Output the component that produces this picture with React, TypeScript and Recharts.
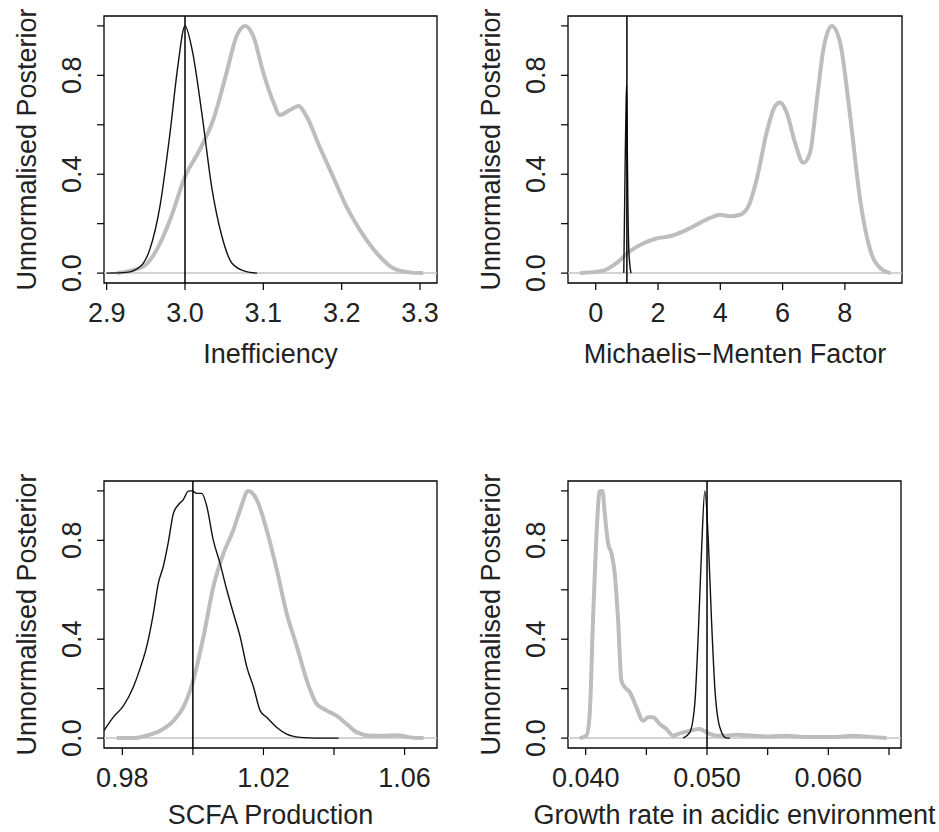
import React from "react";
import {
  LineChart,
  Line,
  XAxis,
  YAxis,
  ReferenceLine,
  ReferenceArea,
} from "recharts";

const FONT = '"Liberation Sans", Arial, Helvetica, sans-serif';
const TEXT = "#222";
const GREY = "#bdbdbd";
const FONT_SIZE = 27;

// Inefficiency
const ineffGreyX = [2.913, 2.947, 2.964, 2.981, 3.0, 3.019, 3.036, 3.053, 3.066, 3.077, 3.087, 3.1, 3.113, 3.121, 3.134, 3.145, 3.155, 3.172, 3.189, 3.206, 3.223, 3.245, 3.266, 3.287, 3.304];
const ineffGreyY = [0, 0.027, 0.095, 0.216, 0.39, 0.5, 0.62, 0.81, 0.96, 1.0, 0.96, 0.81, 0.69, 0.64, 0.66, 0.676, 0.635, 0.51, 0.39, 0.27, 0.176, 0.08, 0.02, 0.003, 0];
const ineffBlackX = [2.9, 2.925, 2.943, 2.955, 2.968, 2.981, 2.991, 3.0, 3.009, 3.022, 3.034, 3.047, 3.06, 3.077, 3.092];
const ineffBlackY = [0, 0.003, 0.027, 0.095, 0.27, 0.57, 0.84, 1.0, 0.905, 0.635, 0.35, 0.15, 0.04, 0.007, 0];

// Michaelis-Menten factor
const mmGreyX = [-0.51, 0.24, 0.66, 1.09, 1.52, 1.95, 2.38, 2.81, 3.24, 3.67, 3.99, 4.31, 4.63, 4.9, 5.17, 5.49, 5.76, 5.92, 6.13, 6.4, 6.67, 6.88, 7.1, 7.31, 7.58, 7.85, 8.17, 8.49, 8.81, 9.14, 9.46];
const mmGreyY = [0, 0.01, 0.04, 0.088, 0.12, 0.14, 0.149, 0.169, 0.196, 0.223, 0.236, 0.23, 0.236, 0.27, 0.38, 0.57, 0.676, 0.69, 0.65, 0.527, 0.446, 0.486, 0.7, 0.905, 1.0, 0.93, 0.635, 0.297, 0.095, 0.02, 0];
const mmBlackX = [0.9, 0.93, 0.95, 0.97, 0.99, 1.01, 1.03, 1.06, 1.09, 1.13];
const mmBlackY = [0, 0.3, 0.5, 0.65, 0.76, 0.55, 0.3, 0.1, 0.04, 0];

// SCFA production
const scfaGreyX = [0.9784, 0.9831, 0.9869, 0.9907, 0.9945, 0.9973, 1.0001, 1.003, 1.0058, 1.0087, 1.0115, 1.0134, 1.0157, 1.0181, 1.0209, 1.0238, 1.0266, 1.0295, 1.0323, 1.0351, 1.038, 1.0408, 1.0436, 1.0465, 1.0503, 1.054, 1.0578, 1.0616, 1.0654];
const scfaGreyY = [0, 0, 0.01, 0.03, 0.07, 0.125, 0.233, 0.41, 0.612, 0.748, 0.843, 0.924, 1.0, 0.965, 0.843, 0.68, 0.504, 0.369, 0.233, 0.138, 0.111, 0.09, 0.057, 0.023, 0.01, 0.01, 0.012, 0.003, 0];
const scfaBlackX = [0.9748, 0.9774, 0.9803, 0.9831, 0.985, 0.9869, 0.9888, 0.9902, 0.9916, 0.993, 0.9945, 0.9959, 0.9973, 0.9987, 0.9997, 1.0011, 1.0025, 1.0039, 1.0058, 1.0077, 1.0096, 1.0115, 1.0134, 1.0153, 1.0172, 1.0191, 1.0209, 1.0238, 1.0266, 1.0304, 1.0351, 1.0413];
const scfaBlackY = [0.03, 0.084, 0.13, 0.206, 0.28, 0.37, 0.504, 0.626, 0.694, 0.79, 0.91, 0.944, 0.965, 0.999, 1.0, 0.99, 0.99, 0.94, 0.8, 0.707, 0.6, 0.504, 0.41, 0.287, 0.206, 0.11, 0.084, 0.043, 0.016, 0.003, 0, 0];

// Growth rate in acidic environment
const growthGreyX = [0.0395, 0.04006, 0.04033, 0.0406, 0.04088, 0.04116, 0.04138, 0.04157, 0.04184, 0.04212, 0.04239, 0.04267, 0.04294, 0.04322, 0.04363, 0.04418, 0.04473, 0.04514, 0.04555, 0.0461, 0.04665, 0.0472, 0.04776, 0.04858, 0.04941, 0.04996, 0.05078, 0.0516, 0.05243, 0.0538, 0.05518, 0.05655, 0.05793, 0.0593, 0.06068, 0.06205, 0.06343, 0.0648];
const growthGreyY = [0, 0.01, 0.098, 0.477, 0.816, 0.999, 1.0, 0.91, 0.789, 0.748, 0.667, 0.477, 0.233, 0.206, 0.186, 0.125, 0.07, 0.084, 0.084, 0.057, 0.037, 0.01, 0.019, 0.03, 0.037, 0.023, 0.01, 0.01, 0.014, 0.01, 0.007, 0.01, 0.005, 0.005, 0.005, 0.01, 0.005, 0];
const growthBlackX = [0.04803, 0.04858, 0.04899, 0.04927, 0.04954, 0.04982, 0.05009, 0.05037, 0.05064, 0.05106, 0.0516, 0.05188];
const growthBlackY = [0, 0.023, 0.138, 0.41, 0.748, 1.0, 0.816, 0.477, 0.206, 0.043, 0, 0];

// axes
const yTicks = [0, 0.2, 0.4, 0.6, 0.8, 1.0];
const yLabelled = [0, 0.4, 0.8];
const yDomain: [number, number] = [-0.04, 1.04];

const ineffTicks = [2.9, 3.0, 3.1, 3.2, 3.3];
const mmTicks = [0, 2, 4, 6, 8];
const scfaTicks = [0.98, 1.0, 1.02, 1.04, 1.06];
const scfaLabelled = [0.98, 1.02, 1.06];
const growthTicks = [0.04, 0.045, 0.05, 0.055, 0.06, 0.065];
const growthLabelled = [0.04, 0.05, 0.06];

const zip = (xs: number[], ys: number[]) => xs.map((x, i) => ({ x, y: ys[i] }));
const has = (list: number[], v: number) => list.some((l) => Math.abs(l - v) < 1e-9);

type PanelProps = {
  left: number;
  top: number;
  width: number;
  height: number;
  plot: { l: number; t: number; r: number; b: number };
  titleGap: number;
  xDomain: [number, number];
  xTicks: number[];
  xLabelled: number[];
  digits: number;
  title: string;
  grey: { x: number; y: number }[];
  black: { x: number; y: number }[];
  truth: number;
};

const Panel = ({ left, top, width, height, plot, titleGap, xDomain, xTicks, xLabelled, digits, title, grey, black, truth }: PanelProps) => {
  const xTick = (p: any) => {
    const v = p.payload.value;
    if (!has(xLabelled, v)) return <g />;
    return (
      <text x={p.x} y={p.y + 23} textAnchor="middle" dominantBaseline="central" fontSize={FONT_SIZE} fill={TEXT} fontFamily={FONT}>
        {v.toFixed(digits)}
      </text>
    );
  };
  const yTick = (p: any) => {
    const v = p.payload.value;
    if (!has(yLabelled, v)) return <g />;
    const cx = p.x - 25;
    return (
      <text x={cx} y={p.y} transform={`rotate(-90, ${cx}, ${p.y})`} textAnchor="middle" dominantBaseline="central" fontSize={FONT_SIZE} fill={TEXT} fontFamily={FONT}>
        {v.toFixed(1)}
      </text>
    );
  };
  const xTitle = () => (
    <text x={(plot.l + plot.r) / 2} y={plot.b + titleGap} textAnchor="middle" dominantBaseline="central" fontSize={FONT_SIZE} fill={TEXT} fontFamily={FONT}>
      {title}
    </text>
  );
  const yTitleX = plot.l - 77;
  const yTitleY = (plot.t + plot.b) / 2;
  const yTitle = () => (
    <text x={yTitleX} y={yTitleY} transform={`rotate(-90, ${yTitleX}, ${yTitleY})`} textAnchor="middle" dominantBaseline="central" fontSize={FONT_SIZE} fill={TEXT} fontFamily={FONT}>
      Unnormalised Posterior
    </text>
  );

  return (
    <div style={{ position: "absolute", left, top, width, height }}>
      <LineChart width={width} height={height} margin={{ top: plot.t, right: width - plot.r, bottom: 0, left: 0 }}>
        <XAxis
          type="number"
          dataKey="x"
          domain={xDomain}
          ticks={xTicks}
          interval={0}
          allowDataOverflow
          axisLine={false}
          tickLine={{ stroke: "#000", strokeWidth: 1.2 }}
          tickSize={7}
          tickMargin={0}
          height={height - plot.b}
          tick={xTick}
          label={xTitle}
        />
        <YAxis
          type="number"
          domain={yDomain}
          ticks={yTicks}
          interval={0}
          allowDataOverflow
          axisLine={false}
          tickLine={{ stroke: "#000", strokeWidth: 1.2 }}
          tickSize={7}
          tickMargin={0}
          width={plot.l}
          tick={yTick}
          label={yTitle}
        />
        <ReferenceLine y={0} stroke="#c4c4c4" strokeWidth={1.5} />
        <Line data={grey} dataKey="y" type="monotone" stroke={GREY} strokeWidth={4} dot={false} activeDot={false} isAnimationActive={false} />
        <Line data={black} dataKey="y" type="monotone" stroke="#111" strokeWidth={1.4} dot={false} activeDot={false} isAnimationActive={false} />
        <ReferenceLine x={truth} stroke="#000" strokeWidth={1.5} />
        <ReferenceArea x1={xDomain[0]} x2={xDomain[1]} y1={yDomain[0]} y2={yDomain[1]} fill="none" stroke="#000" strokeWidth={1.3} ifOverflow="visible" />
      </LineChart>
    </div>
  );
};

export default function App() {
  return (
    <div style={{ position: "absolute", left: 0, top: 0, width: 939, height: 832, background: "#fff" }}>
      <Panel
        left={0}
        top={0}
        width={469}
        height={416}
        plot={{ l: 104, t: 16, r: 437, b: 283 }}
        titleGap={71}
        xDomain={[2.8966, 3.3217]}
        xTicks={ineffTicks}
        xLabelled={ineffTicks}
        digits={1}
        title="Inefficiency"
        grey={zip(ineffGreyX, ineffGreyY)}
        black={zip(ineffBlackX, ineffBlackY)}
        truth={3.0}
      />
      <Panel
        left={469}
        top={0}
        width={470}
        height={416}
        plot={{ l: 99, t: 16, r: 433, b: 283 }}
        titleGap={71}
        xDomain={[-0.891, 9.834]}
        xTicks={mmTicks}
        xLabelled={mmTicks}
        digits={0}
        title="Michaelis−Menten Factor"
        grey={zip(mmGreyX, mmGreyY)}
        black={zip(mmBlackX, mmBlackY)}
        truth={1.0}
      />
      <Panel
        left={0}
        top={416}
        width={469}
        height={416}
        plot={{ l: 104, t: 65, r: 437, b: 332 }}
        titleGap={67}
        xDomain={[0.97481, 1.06919]}
        xTicks={scfaTicks}
        xLabelled={scfaLabelled}
        digits={2}
        title="SCFA Production"
        grey={zip(scfaGreyX, scfaGreyY)}
        black={zip(scfaBlackX, scfaBlackY)}
        truth={1.0}
      />
      <Panel
        left={469}
        top={416}
        width={470}
        height={416}
        plot={{ l: 99, t: 65, r: 432, b: 332 }}
        titleGap={67}
        xDomain={[0.03854, 0.06599]}
        xTicks={growthTicks}
        xLabelled={growthLabelled}
        digits={3}
        title="Growth rate in acidic environment"
        grey={zip(growthGreyX, growthGreyY)}
        black={zip(growthBlackX, growthBlackY)}
        truth={0.05}
      />
    </div>
  );
}
